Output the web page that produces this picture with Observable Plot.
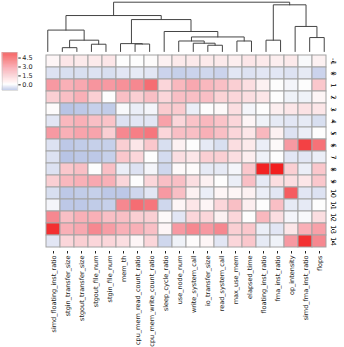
<!DOCTYPE html>
<html>
<head>
<meta charset="utf-8">
<script src="https://cdn.jsdelivr.net/npm/d3@7"></script>
<script src="https://cdn.jsdelivr.net/npm/@observablehq/plot@0.6"></script>
<style>
  html, body { margin: 0; padding: 0; background: #fff; }
  #chart { position: relative; width: 344px; height: 347px; overflow: hidden; font-family: "DejaVu Sans", sans-serif; }
  #chart svg { position: absolute; left: 0; top: 0; background: transparent; }
</style>
</head>
<body>
<div id="chart"></div>
<script>
// Job metrics (columns, in dendrogram leaf order) and cluster ids (rows)
const columns = [
  "simd_floating_inst_ratio", "stgin_transfer_size", "stgout_transfer_size",
  "stgout_file_num", "stgin_file_num", "mem_th", "cpu_mem_read_count_ratio",
  "cpu_mem_write_count_ratio", "sleep_cycle_ratio", "use_node_num",
  "write_system_call", "io_transfer_size", "read_system_call", "max_use_mem",
  "elapsed_time", "floating_inst_ratio", "fma_inst_ratio", "op_intensity",
  "simd_fma_inst_ratio", "flops"
];
const rowLabels = [-1, 0, 1, 2, 3, 4, 5, 6, 7, 8, 9, 10, 11, 12, 13, 14];

// Standardised value of each metric, one array per cluster
const cluster_m1 = [0.2, 0.6, 0.5, 0.5, 0.6, 0.0, 0.0, 0.05, 0.3, 0.5, 0.5, 0.5, 0.5, 0.4, 0.6, 0.5, 0.4, 0.5, -0.05, 0.3];
const cluster_0  = [-0.35, -0.4, -0.4, -0.35, -0.4, -0.3, -0.25, -0.3, -0.55, -0.6, -0.55, -0.5, -0.55, -0.3, -0.35, -0.3, -0.3, -0.35, -0.25, -0.55];
const cluster_1  = [2.6, 2.0, 2.2, 2.7, 2.6, 2.8, 3.0, 3.6, 1.0, 1.8, 2.2, 1.8, 1.6, 1.2, 0.8, 0.3, 0.0, -0.1, 0.0, 1.4];
const cluster_2  = [1.2, 1.6, 2.0, 1.2, 0.0, 1.6, 1.2, 1.6, 1.0, 1.6, 1.6, 1.6, 1.1, 1.0, 0.8, 0.6, 0.0, -0.15, -0.15, 0.2];
const cluster_3  = [0.05, -0.75, -0.7, -0.6, -0.65, -0.05, -0.2, -0.1, 1.3, 1.3, -0.2, 0.0, 0.1, 0.8, -0.1, 0.0, 0.4, 0.6, 0.7, 0.6];
const cluster_4  = [-0.3, 1.8, 2.0, 1.6, 1.5, -0.35, -0.3, -0.3, 2.4, 1.0, 1.5, 1.8, 1.5, 1.0, 0.2, -0.15, -0.25, -0.3, -0.25, -0.4];
const cluster_5  = [2.6, 2.0, 2.3, 2.3, 1.2, 3.0, 3.2, 3.4, 1.0, 1.6, 1.6, 2.0, 1.6, 1.0, 0.6, 1.8, 0.3, -0.35, -0.2, 0.0];
const cluster_6  = [-0.35, -0.7, -0.65, -0.6, -0.6, 1.2, 0.6, 1.4, -0.4, 0.3, 0.0, -0.25, -0.4, 0.8, 0.5, -0.2, 0.1, 2.6, 4.6, 3.5];
const cluster_7  = [-0.35, -0.75, -0.7, -0.7, -0.6, 1.4, 1.0, 0.0, -0.45, 0.8, 0.6, 1.2, 1.2, 0.8, 0.4, -0.15, 0.0, -0.3, -0.3, -0.2];
const cluster_8  = [-0.35, 1.4, 1.6, 0.0, 1.6, -0.2, -0.35, -0.1, -0.5, 0.1, 0.05, -0.25, -0.25, -0.1, 1.4, 5.3, 5.4, 1.2, -0.2, 1.4];
const cluster_9  = [1.2, 1.8, 2.0, 2.2, 2.0, 1.0, 0.0, 1.0, 1.6, 1.6, 0.8, 0.3, 0.0, -0.2, 1.6, -0.25, 0.8, 0.8, 0.6, 1.4];
const cluster_10 = [-0.4, -0.7, -0.65, -0.6, -0.7, -0.7, -0.5, -0.3, 2.6, 1.6, 0.3, -0.2, 0.2, 0.2, 0.3, -0.2, -0.3, 4.0, -0.3, -0.35];
const cluster_11 = [-0.1, -0.7, -0.7, -0.65, -0.6, 3.0, 3.6, 3.4, -0.5, 0.2, 0.6, 0.2, 1.0, 1.6, 0.4, 0.0, 1.6, -0.25, -0.25, 0.0];
const cluster_12 = [3.0, 1.6, 2.0, 2.0, 1.6, 1.6, 1.2, 1.2, 0.1, -0.3, 1.0, 1.0, 0.3, 1.0, 0.0, 1.8, 0.8, -0.1, -0.05, 0.8];
const cluster_13 = [5.0, 2.0, 2.2, 3.0, 2.5, 2.0, 2.0, 1.6, 0.2, 2.6, 3.0, 2.6, 3.0, 1.2, 1.4, -0.2, -0.3, 0.6, 2.0, 2.4];
const cluster_14 = [-0.3, 1.0, 1.2, 1.0, 1.0, 0.8, 0.2, 1.0, -0.5, -0.15, 0.05, 0.2, -0.3, 1.0, 1.4, -0.25, -0.15, 2.6, 5.0, 3.0];

const clusterRows = [cluster_m1, cluster_0, cluster_1, cluster_2, cluster_3, cluster_4, cluster_5,
  cluster_6, cluster_7, cluster_8, cluster_9, cluster_10, cluster_11, cluster_12, cluster_13, cluster_14];

// Column linkage: [left, right, distance]; ids 0-19 are leaves, 20+ are merges in order
const linkage = [
  [1, 2, 0.95], [11, 12, 1.55], [3, 4, 1.8], [6, 7, 1.85], [5, 23, 1.95],
  [10, 21, 2.05], [9, 25, 2.6], [13, 14, 2.6], [15, 16, 2.8], [20, 22, 2.8],
  [18, 19, 3.45], [26, 27, 3.6], [8, 31, 4.95], [0, 29, 5.3], [17, 30, 6.2],
  [24, 32, 7.9], [33, 35, 8.9], [28, 34, 11.55], [36, 37, 12.2]
];

// Colour bar range and ticks
const colorMin = -0.95, colorMax = 5.38;
const colorTicks = [0, 1.5, 3.0, 4.5];

const color = {
  type: "linear",
  domain: [colorMin, 0, 2.7, colorMax],
  range: ["#a6b5df", "#fdfdfd", "#f7959e", "#f21f1f"],
  interpolate: "rgb",
  clamp: true
};

const W = 344, H = 347;
const font = {fontFamily: "DejaVu Sans, sans-serif", fontSize: "7px", color: "#222", background: "transparent", overflow: "visible"};

// Long table for the cells
const cells = [];
clusterRows.forEach((vals, i) => vals.forEach((v, j) => cells.push({row: rowLabels[i], col: columns[j], value: v})));

const heat = Plot.plot({
  width: W, height: H,
  marginLeft: 40, marginRight: 13, marginTop: 51, marginBottom: 96,
  style: font,
  x: {domain: columns, padding: 0, label: null},
  y: {domain: rowLabels, padding: 0, label: null},
  color,
  marks: [
    Plot.cell(cells, {x: "col", y: "row", fill: "value", stroke: "#a3a3a3", strokeWidth: 1}),
    Plot.axisX({anchor: "bottom", tickRotate: -90, tickSize: 2.5, tickPadding: 1.5, fontSize: 6.5, label: null}),
    Plot.axisY({anchor: "right", tickRotate: 90, tickSize: 2.5, tickPadding: 2, label: null})
  ]
});

// Dendrogram over the columns: elbow paths computed from the linkage table
const nodeX = columns.map((_, i) => i + 0.5);
const nodeY = columns.map(() => 0);
const segments = [];
linkage.forEach(([a, b, d], k) => {
  const xa = nodeX[a], xb = nodeX[b];
  segments.push({k, x: xa, y: nodeY[a]}, {k, x: xa, y: d}, {k, x: xb, y: d}, {k, x: xb, y: nodeY[b]});
  nodeX.push((xa + xb) / 2);
  nodeY.push(d);
});

const dendro = Plot.plot({
  width: W, height: 51,
  marginLeft: 40, marginRight: 13, marginTop: 1.7, marginBottom: 0,
  style: font,
  x: {domain: [0, columns.length], axis: null},
  y: {domain: [0, linkage[linkage.length - 1][2]], axis: null},
  marks: [
    Plot.line(segments, {x: "x", y: "y", z: "k", stroke: "#444", strokeWidth: 1, curve: "linear"})
  ]
});

// Vertical colour bar on the left
const step = (colorMax - colorMin) / 200;
const ramp = d3.range(colorMin, colorMax, step);
const bar = Plot.plot({
  width: 40, height: 100,
  marginLeft: 1.7, marginRight: 22.7, marginTop: 52.3, marginBottom: 10,
  style: {...font, fontSize: "6.5px"},
  x: {domain: [0, 1], axis: null},
  y: {domain: [colorMin, colorMax], label: null},
  color,
  marks: [
    Plot.rect(ramp, {x1: 0, x2: 1, y1: d => d, y2: d => d + step * 1.05, fill: d => d}),
    Plot.frame({stroke: "#c8c8c8", strokeWidth: 0.6}),
    Plot.axisY({anchor: "right", ticks: colorTicks, tickFormat: d3.format(".1f"), tickSize: 2.5, tickPadding: 2, label: null})
  ]
});

const root = document.getElementById("chart");
root.append(heat, dendro, bar);
</script>
</body>
</html>
